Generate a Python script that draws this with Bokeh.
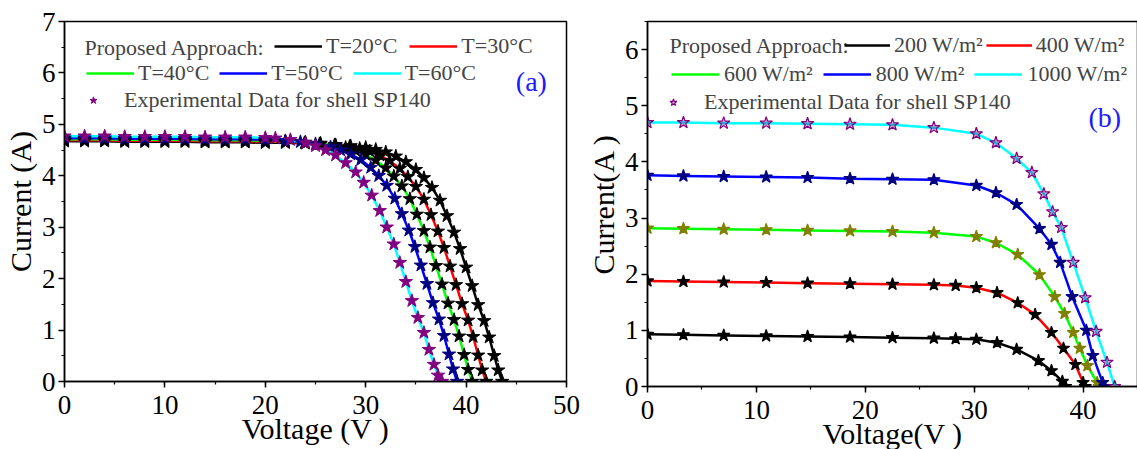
from bokeh.plotting import figure
from bokeh.layouts import row
from bokeh.models import Label, Legend, LegendItem, Range1d, SingleIntervalTicker
from bokeh.embed import file_html
from bokeh.resources import INLINE

FONT = "Liberation Serif"

# ---------------- Panel (a): temperature variation ----------------
v_t20 = [0, 2, 4, 6, 8, 10, 12, 14, 16, 18, 20, 22, 24, 25.5, 27, 28.5, 30, 31, 32, 33, 34, 35,
         35.8, 36.6, 37.4, 38.1, 38.8, 39.4, 40, 40.6, 41.2, 41.8, 42.3, 42.8, 43.2, 43.6]
i_t20 = [4.67, 4.67, 4.67, 4.66, 4.66, 4.66, 4.66, 4.65, 4.65, 4.65, 4.64, 4.64, 4.63, 4.62, 4.60, 4.58,
         4.55, 4.51, 4.46, 4.38, 4.27, 4.12, 3.96, 3.77, 3.52, 3.22, 2.90, 2.58, 2.22, 1.86, 1.49, 1.18,
         0.86, 0.50, 0.22, 0.0]
v_t30 = [0, 2, 4, 6, 8, 10, 12, 14, 16, 18, 20, 22, 23.9, 25.4, 26.9, 28.4, 29.4, 30.4, 31.4, 32.4, 33.4,
         34.2, 35.0, 35.8, 36.5, 37.2, 37.8, 38.4, 39.0, 39.6, 40.2, 40.7, 41.2, 41.6, 42.0]
i_t30 = [4.69, 4.69, 4.69, 4.68, 4.68, 4.68, 4.68, 4.67, 4.67, 4.67, 4.66, 4.66, 4.64, 4.62, 4.60, 4.57,
         4.53, 4.48, 4.40, 4.29, 4.14, 3.98, 3.79, 3.54, 3.24, 2.92, 2.60, 2.24, 1.88, 1.51, 1.19, 0.87,
         0.51, 0.22, 0.0]
v_t40 = [0, 2, 4, 6, 8, 10, 12, 14, 16, 18, 20, 22, 24, 25.5, 27, 28, 29, 30, 31, 32,
         32.8, 33.6, 34.4, 35.1, 35.8, 36.4, 37.0, 37.6, 38.2, 38.8, 39.3, 39.8, 40.2, 40.6]
i_t40 = [4.71, 4.71, 4.71, 4.70, 4.70, 4.70, 4.70, 4.69, 4.69, 4.69, 4.68, 4.67, 4.65, 4.63, 4.59, 4.55,
         4.49, 4.41, 4.30, 4.15, 3.99, 3.80, 3.55, 3.25, 2.93, 2.61, 2.25, 1.89, 1.52, 1.20, 0.88, 0.52,
         0.23, 0.0]
v_t50 = [0, 2, 4, 6, 8, 10, 12, 14, 16, 18, 20, 22, 23.5, 25, 26.5, 27.5, 28.5, 29.5, 30.5,
         31.3, 32.1, 32.9, 33.6, 34.3, 34.9, 35.5, 36.1, 36.7, 37.3, 37.8, 38.3, 38.7, 39.1]
i_t50 = [4.73, 4.73, 4.73, 4.72, 4.72, 4.72, 4.72, 4.71, 4.71, 4.71, 4.70, 4.68, 4.66, 4.62, 4.56, 4.50,
         4.42, 4.31, 4.16, 4.00, 3.81, 3.56, 3.26, 2.94, 2.62, 2.26, 1.90, 1.53, 1.21, 0.89, 0.53, 0.24, 0.0]
v_t60 = [0, 2, 4, 6, 8, 10, 12, 14, 16, 18, 20, 21, 22.5, 24, 25, 26, 27, 28, 29,
         29.8, 30.6, 31.4, 32.1, 32.8, 33.4, 34.0, 34.6, 35.2, 35.8, 36.3, 36.8, 37.2, 37.6]
i_t60 = [4.77, 4.77, 4.77, 4.76, 4.76, 4.76, 4.76, 4.75, 4.75, 4.75, 4.74, 4.73, 4.70, 4.64, 4.58, 4.50,
         4.40, 4.25, 4.07, 3.87, 3.62, 3.32, 3.00, 2.67, 2.31, 1.94, 1.57, 1.24, 0.95, 0.62, 0.33, 0.12, 0.0]

labels_a = ["T=20°C", "T=30°C", "T=40°C", "T=50°C", "T=60°C"]
line_colors = ["#000000", "#FF0000", "#00FF00", "#0000FF", "#00FFFF"]
star_colors_a = ["#000000", "#000000", "#000000", "#000080", "#800080"]

# ---------------- Panel (b): irradiance variation ----------------
v_g200 = [0, 3.3, 7.0, 10.9, 14.7, 18.6, 22.5, 26.3, 28.3, 30.2, 32.1, 33.9, 35.9, 37.1, 38.1, 38.4]
i_g200 = [0.93, 0.92, 0.91, 0.90, 0.89, 0.88, 0.87, 0.86, 0.85, 0.84, 0.78, 0.66, 0.46, 0.28, 0.09, 0.0]
v_g400 = [0, 3.3, 7.0, 10.9, 14.7, 18.6, 22.5, 26.3, 28.3, 30.2, 32.1, 34.0, 35.6, 37.1, 38.2, 39.3, 40.0, 40.2]
i_g400 = [1.88, 1.87, 1.86, 1.85, 1.84, 1.83, 1.82, 1.81, 1.80, 1.76, 1.67, 1.49, 1.28, 0.96, 0.68, 0.39, 0.07, 0.0]
v_g600 = [0, 3.3, 7.0, 10.9, 14.7, 18.6, 22.5, 26.3, 30.2, 32.0, 34.0, 36.0, 37.4, 38.3, 39.1, 39.7, 40.4, 41.3, 41.5]
i_g600 = [2.82, 2.81, 2.80, 2.79, 2.78, 2.77, 2.76, 2.74, 2.67, 2.56, 2.35, 1.99, 1.60, 1.30, 0.96, 0.68, 0.37, 0.07, 0.0]
v_g800 = [0, 3.3, 7.0, 10.9, 14.7, 18.6, 22.5, 26.3, 30.2, 32.0, 33.9, 36.0, 37.1, 37.9, 39.0, 40.3, 40.9, 41.8, 42.0]
i_g800 = [3.76, 3.75, 3.74, 3.73, 3.72, 3.70, 3.69, 3.68, 3.58, 3.45, 3.24, 2.81, 2.53, 2.21, 1.60, 1.00, 0.55, 0.07, 0.0]
v_g1000 = [0, 3.3, 7.0, 10.9, 14.7, 18.6, 22.5, 26.3, 30.2, 32.0, 33.9, 35.3, 36.4, 37.2, 38.0, 39.1, 40.2, 41.2, 42.2, 42.9]
i_g1000 = [4.70, 4.70, 4.69, 4.69, 4.68, 4.67, 4.66, 4.61, 4.50, 4.34, 4.06, 3.81, 3.43, 3.11, 2.83, 2.21, 1.58, 0.98, 0.43, 0.0]

labels_b = ["200 W/m²", "400 W/m²", "600 W/m²", "800 W/m²", "1000 W/m²"]
star_colors_b = ["#000000", "#000000", "#808000", "#000080", "#800080"]


def style(p, xint, yint):
    p.outline_line_color = "black"
    p.outline_line_width = 1.5
    p.xgrid.visible = False
    p.ygrid.visible = False
    p.xaxis.ticker = SingleIntervalTicker(interval=xint, num_minor_ticks=2)
    p.yaxis.ticker = SingleIntervalTicker(interval=yint, num_minor_ticks=2)
    for ax in (p.xaxis[0], p.yaxis[0]):
        ax.axis_line_color = "black"
        ax.axis_line_width = 1.5
        ax.major_tick_out = 6
        ax.major_tick_in = 0
        ax.minor_tick_out = 3
        ax.minor_tick_in = 0
        ax.major_tick_line_width = 1.5
        ax.minor_tick_line_width = 1.2
        ax.major_label_text_font = FONT
        ax.major_label_text_font_size = "27px"
        ax.major_label_text_color = "black"
        ax.axis_label_text_font = FONT
        ax.axis_label_text_font_size = "30px"
        ax.axis_label_text_font_style = "normal"
        ax.axis_label_text_color = "black"
    p.xaxis[0].major_label_standoff = 8
    p.xaxis[0].axis_label_standoff = -5
    p.yaxis[0].major_label_standoff = 3
    p.yaxis[0].axis_label_standoff = 2


def make_legend(items, loc, glyph_width=48, standoff=4, spacing=10):
    return Legend(items=items, orientation="horizontal", location=loc,
                  glyph_width=glyph_width, glyph_height=20, label_standoff=standoff,
                  spacing=spacing, padding=0, margin=0,
                  border_line_alpha=0, background_fill_alpha=0,
                  label_text_font=FONT, label_text_font_size="22px")


# ---------- figure (a) ----------
pa = figure(frame_width=502, frame_height=360, min_border_left=63, min_border_right=15,
            min_border_top=21, min_border_bottom=68,
            x_range=Range1d(0, 50), y_range=Range1d(0, 7),
            x_axis_label="Voltage (V )", y_axis_label="Current (A)",
            output_backend="svg", toolbar_location=None)
style(pa, 10, 1)

va = [v_t20, v_t30, v_t40, v_t50, v_t60]
ia = [i_t20, i_t30, i_t40, i_t50, i_t60]
lines_a = []
for v, i, c in zip(va, ia, line_colors):
    lines_a.append(pa.line(v, i, line_color=c, line_width=2.5))
stars_a = []
for v, i, c in zip(va, ia, star_colors_a):
    stars_a.append(pa.scatter(v, i, marker="star", size=14, fill_color=c, line_color=c))

pa.add_layout(Label(x=20, y=334, x_units="screen", y_units="screen", text="Proposed Approach:",
                    text_font=FONT, text_font_size="22px", text_baseline="middle"))
pa.add_layout(make_legend([LegendItem(label=labels_a[0], renderers=[lines_a[0]]),
                           LegendItem(label=labels_a[1], renderers=[lines_a[1]])], (210, 322), spacing=12))
pa.add_layout(make_legend([LegendItem(label=labels_a[k], renderers=[lines_a[k]]) for k in (2, 3, 4)],
                          (22, 295), spacing=10))
pa.add_layout(make_legend([LegendItem(label="Experimental Data for shell SP140", renderers=[stars_a[4]])],
                          (20, 268), glyph_width=18, standoff=22))
pa.add_layout(Label(x=46.5, y=5.83, text="(a)", text_font=FONT, text_font_size="28px",
                    text_color="#1a1aff", text_align="center", text_baseline="middle"))

# ---------- figure (b) ----------
pb = figure(frame_width=490, frame_height=365, min_border_left=66, min_border_right=1,
            min_border_top=16, min_border_bottom=68,
            x_range=Range1d(0, 45), y_range=Range1d(0, 6.5),
            x_axis_label="Voltage(V )", y_axis_label="Current(A )",
            output_backend="svg", toolbar_location=None)
style(pb, 10, 1)

vb = [v_g200, v_g400, v_g600, v_g800, v_g1000]
ib = [i_g200, i_g400, i_g600, i_g800, i_g1000]
lines_b = []
for v, i, c in zip(vb, ib, line_colors):
    lines_b.append(pb.line(v, i, line_color=c, line_width=2.5))
stars_b = []
for k, (v, i, c) in enumerate(zip(vb, ib, star_colors_b)):
    fa = 0.35 if k == 4 else 1.0
    stars_b.append(pb.scatter(v, i, marker="star", size=13, fill_color=c, fill_alpha=fa,
                              line_color=c, line_width=1.2))

pb.add_layout(Label(x=22, y=341, x_units="screen", y_units="screen", text="Proposed Approach:",
                    text_font=FONT, text_font_size="22px", text_baseline="middle"))
pb.add_layout(make_legend([LegendItem(label=labels_b[0], renderers=[lines_b[0]]),
                           LegendItem(label=labels_b[1], renderers=[lines_b[1]])], (197, 328),
                          glyph_width=46, standoff=4, spacing=3))
pb.add_layout(make_legend([LegendItem(label=labels_b[k], renderers=[lines_b[k]]) for k in (2, 3, 4)],
                          (24, 299), standoff=5, spacing=10))
pb.add_layout(make_legend([LegendItem(label="Experimental Data for shell SP140", renderers=[stars_b[4]])],
                          (17, 271), glyph_width=18, standoff=22))
pb.add_layout(Label(x=42.0, y=4.79, text="(b)", text_font=FONT, text_font_size="28px",
                    text_color="#1a1aff", text_align="center", text_baseline="middle"))

layout = row(pa, pb)
open("out.html", "w").write(file_html(layout, INLINE))
